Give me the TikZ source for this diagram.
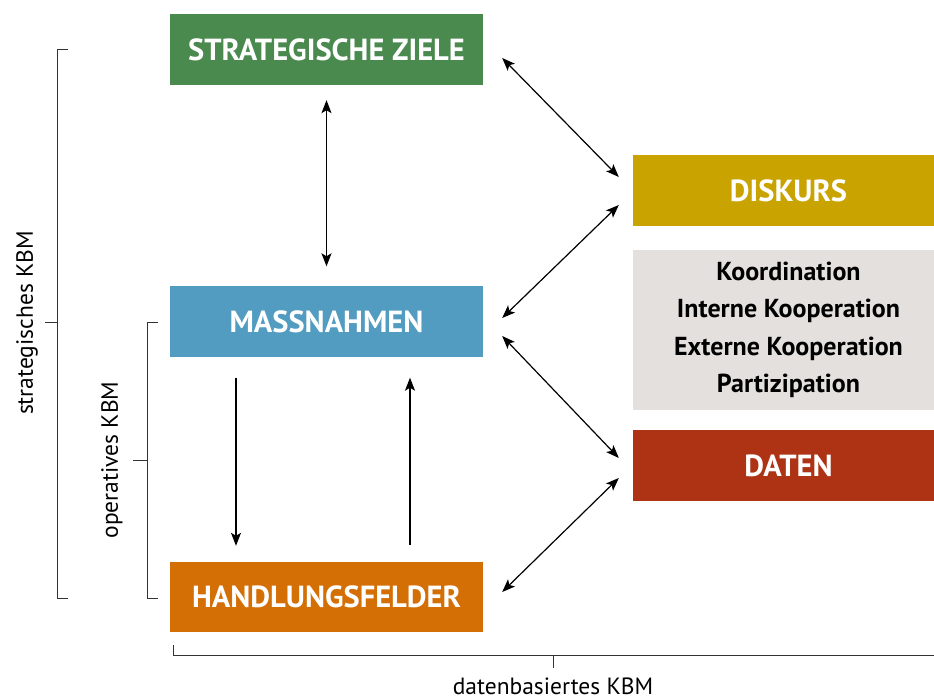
\documentclass[tikz,border=0pt]{standalone}
\usepackage{fontspec}
\setmainfont{PT Sans}
\usetikzlibrary{arrows.meta}
\usetikzlibrary{calc}

\definecolor{zielgreen}{HTML}{4A8A4E}
\definecolor{massblue}{HTML}{519CC0}
\definecolor{feldorange}{HTML}{D46F06}
\definecolor{diskgold}{HTML}{C9A300}
\definecolor{fokgray}{HTML}{E3E0DD}
\definecolor{datred}{HTML}{AE3315}

\tikzset{
  box/.style={minimum width=313pt, minimum height=71pt, inner sep=0pt, text=white,
    font=\fontsize{30.5}{34}\selectfont\bfseries},
  rbox/.style={box, minimum width=311pt},
  biarrow/.style={{Stealth[length=13pt, width=10pt, inset=3pt]}-{Stealth[length=13pt, width=10pt, inset=3pt]}, line width=1.2pt},
  onearrow/.style={-{Stealth[length=13pt, width=10pt, inset=3pt]}, line width=1.2pt},
  brack/.style={line width=1pt, draw=black!80},
  lab/.style={font=\fontsize{23.5}{26}\selectfont}
}

\begin{document}
\begin{tikzpicture}[x=1pt, y=-1pt]
\useasboundingbox (0,0) rectangle (934,700);

% left column
\node[box, fill=zielgreen] (SZ) at (326.5,49.5) {STRATEGISCHE ZIELE};
\node[box, fill=massblue] (MA) at (326.5,322) {MASSNAHMEN};
\node[box, fill=feldorange, minimum height=70pt] (HF) at (326.5,597) {HANDLUNGSFELDER};

% right column (runs past the page edge)
\node[rbox, fill=diskgold] (DK) at (788.5,190.5) {DISKURS};
\node[rbox, fill=fokgray, minimum height=160pt, text=black, align=center,
  font=\fontsize{26}{37.5}\selectfont\bfseries] (FO) at (788.5,330)
  {Koordination\\Interne Kooperation\\Externe Kooperation\\Partizipation};
\node[rbox, fill=datred] (DA) at (788.5,465.5) {DATEN};

% arrows
\draw[biarrow] ([yshift=-15pt]SZ.south) -- ([yshift=20pt]MA.north);
\draw[onearrow] ([xshift=-90.5pt, yshift=-20pt]MA.south) -- ([xshift=-90.5pt, yshift=16pt]HF.north);
\draw[onearrow] ([xshift=83.5pt, yshift=17pt]HF.north) -- ([xshift=83.5pt, yshift=-20pt]MA.south);

\draw[biarrow] ([xshift=19pt, yshift=-8.5pt]SZ.east) -- ([xshift=-14pt, yshift=13.5pt]DK.west);
\draw[biarrow] ([xshift=19pt, yshift=4pt]MA.east) -- ([xshift=-14pt, yshift=-14.5pt]DK.west);
\draw[biarrow] ([xshift=19pt, yshift=-14pt]MA.east) -- ([xshift=-14pt, yshift=7.5pt]DA.west);
\draw[biarrow] ([xshift=19pt, yshift=5pt]HF.east) -- ([xshift=-14pt, yshift=-12.5pt]DA.west);

% brackets
\draw[brack] (68,50) -- (57,50) -- (57,598) -- (68,598);
\draw[brack] (57,323) -- (45,323);
\node[lab, rotate=90] (strat) at (27,323) {strategisches KBM};

\draw[brack] (158,323) -- (147,323) -- (147,598) -- (158,598);
\draw[brack] (147,460) -- (133,460);
\node[lab, rotate=90] (oper) at (112,460) {operatives KBM};

\draw[brack] (173,645) -- (173,655) -- (934,655);
\draw[brack] (553,655) -- (553,668);
\node[lab] (daten) at (553,686) {datenbasiertes KBM};

\end{tikzpicture}
\end{document}
